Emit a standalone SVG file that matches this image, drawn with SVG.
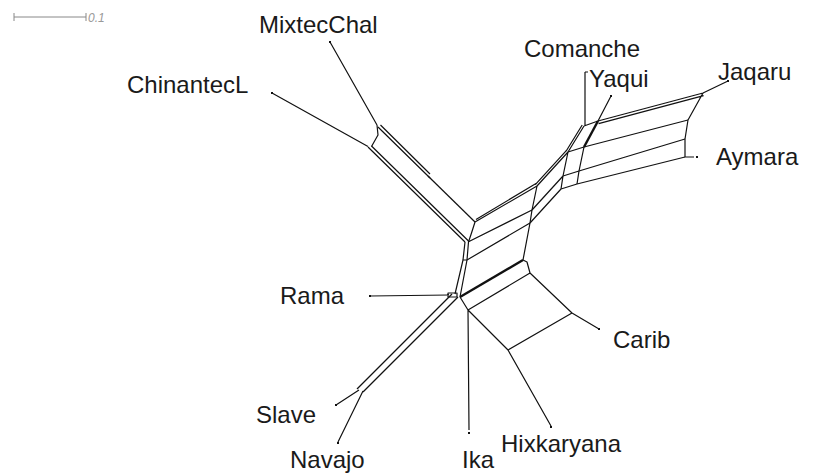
<svg xmlns="http://www.w3.org/2000/svg" width="825" height="474" viewBox="0 0 825 474">
<style>
.e{fill:none;stroke:#111;stroke-width:1.2;stroke-linejoin:round}
.t{stroke-width:2.4}
.lbl{font-family:"Liberation Sans",Arial,sans-serif;font-size:24px;fill:#1a1a1a}
.dot{fill:#111}
</style>
<rect width="825" height="474" fill="#fff"/>
<g id="scale">
<path d="M14,17H86M14,13V21M86,13V21" fill="none" stroke="#888" stroke-width="1"/>
<text x="88" y="22" font-family="Liberation Sans,Arial,sans-serif" font-size="12" font-style="italic" fill="#999">0.1</text>
</g>
<g id="edges">
<path class="e" d="M330,42L377,125M272,93L368,146.5M377,125L378,135L371.5,146.5"/>
<path class="e" d="M378,127L430,178M380.5,125L430,174"/>
<path class="e" d="M428,176L475,222" stroke-width="2"/>
<path class="e" d="M368,147L465,242M371.5,146L468.5,241"/>
<path class="e" d="M475,222L471.5,233L468.5,242M465,242L463,260L455,294M468.5,242L467,260L460,297M463,260H467"/>
<path class="e" d="M475,222L537,186M476,219.5L536,183.5M468,242L532,210M467,260L530,223M537,186L532,210L530,223L523,260"/>
<path class="e t" d="M460,297L523,260"/>
<path class="e" d="M523,260L527,262L530,273L572,313L599,329M468,310L530,273M468,310L508,350L572,313M508,350L551,426M460,297L468,310L469,430"/>
<path class="e" d="M370,296L449,295M448,293H457V297H448Z"/>
<path class="e" d="M452,294L357,389"/>
<path class="e" d="M458,297L363,392" stroke-width="2.2"/>
<path class="e" d="M359,390L336,405M363,391L338,442"/>
<path class="e" d="M537,186L568,152M535.3,184.6L566.3,150.6M532,210L563,176M530,223L561,189M568,152L563,176L561,189"/>
<path class="e" d="M568,152L584,126M566.2,151L582.2,125M585,72V126M585,72H588M584,126L598,121M598,121L611,96"/>
<path class="e" d="M568,152L584,147M563,176L579,171M561,189L577,184"/>
<path class="e t" d="M598,121L584,147"/>
<path class="e" d="M584,147L579,171L577,184"/>
<path class="e" d="M598,121L703,93M598.6,123.6L703.6,95.6M703,93L728,81M703,93L688,120L685,139L685,157H694"/>
<path class="e" d="M584,147L688,120M579,171L685,139M577,184L685,157"/>
</g>
<g id="leaves" class="dot">
<rect x="329" y="41" width="2" height="2"/><rect x="271" y="92" width="2" height="2"/><rect x="610" y="95" width="2" height="2"/><rect x="727" y="80" width="2" height="2"/><rect x="696" y="156" width="2" height="2"/><rect x="598" y="328" width="2" height="2"/><rect x="550" y="426" width="2" height="2"/><rect x="468" y="432" width="2" height="2"/><rect x="337" y="442" width="2" height="2"/><rect x="335" y="404" width="2" height="2"/><rect x="369" y="295" width="2" height="2"/>
</g>
<g id="n-mixtecchal"><text class="lbl" x="259" y="33">MixtecChal</text></g>
<g id="n-chinantecl"><text class="lbl" x="127" y="93">ChinantecL</text></g>
<g id="n-comanche"><text class="lbl" x="524" y="57">Comanche</text></g>
<g id="n-yaqui"><text class="lbl" x="589" y="87">Yaqui</text></g>
<g id="n-jaqaru"><text class="lbl" x="718" y="80">Jaqaru</text></g>
<g id="n-aymara"><text class="lbl" x="716" y="165">Aymara</text></g>
<g id="n-rama"><text class="lbl" x="280" y="304">Rama</text></g>
<g id="n-carib"><text class="lbl" x="613" y="348">Carib</text></g>
<g id="n-slave"><text class="lbl" x="256" y="423">Slave</text></g>
<g id="n-navajo"><text class="lbl" x="290" y="468">Navajo</text></g>
<g id="n-ika"><text class="lbl" x="462" y="468">Ika</text></g>
<g id="n-hixkaryana"><text class="lbl" x="501" y="452">Hixkaryana</text></g>
</svg>
